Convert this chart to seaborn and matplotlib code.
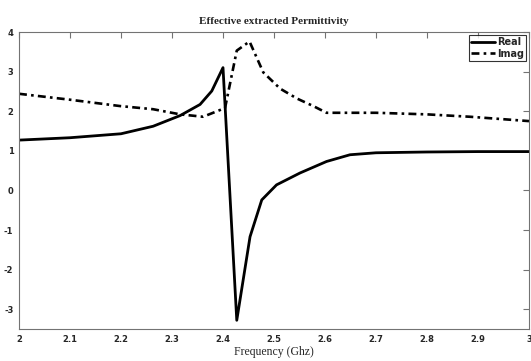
import matplotlib
matplotlib.use("Agg")
import matplotlib.pyplot as plt
import seaborn as sns
import pandas as pd

freq_real = [2.0, 2.1, 2.2, 2.263, 2.316, 2.355, 2.378, 2.40, 2.427, 2.453,
             2.476, 2.505, 2.551, 2.603, 2.649, 2.70, 2.8, 2.9, 3.0]
real_vals = [1.27, 1.33, 1.43, 1.62, 1.89, 2.17, 2.51, 3.10, -3.28, -1.17,
             -0.24, 0.14, 0.44, 0.73, 0.90, 0.95, 0.97, 0.98, 0.98]

freq_imag = [2.0, 2.1, 2.198, 2.263, 2.316, 2.361, 2.404, 2.427, 2.452, 2.479,
             2.512, 2.545, 2.577, 2.603, 2.70, 2.8, 2.884, 3.0]
imag_vals = [2.44, 2.29, 2.13, 2.05, 1.92, 1.86, 2.08, 3.53, 3.76, 2.98,
             2.57, 2.32, 2.13, 1.96, 1.96, 1.92, 1.86, 1.75]

xticks = [2.0, 2.1, 2.2, 2.3, 2.4, 2.5, 2.6, 2.7, 2.8, 2.9, 3.0]
xtick_labels = ["2", "2.1", "2.2", "2.3", "2.4", "2.5", "2.6", "2.7", "2.8", "2.9", "3"]
yticks = [-3, -2, -1, 0, 1, 2, 3, 4]

sns.set_theme(style="white")
plt.rcParams['font.family'] = ['Liberation Sans Narrow', 'DejaVu Sans']
plt.rcParams['axes.unicode_minus'] = False

df_real = pd.DataFrame({"Frequency": freq_real, "Value": real_vals})
df_imag = pd.DataFrame({"Frequency": freq_imag, "Value": imag_vals})

fig = plt.figure(figsize=(5.31, 3.61), dpi=100)
ax = fig.add_axes([19/531, 32/361, 510/531, 297/361])

sns.lineplot(data=df_real, x="Frequency", y="Value", ax=ax, color="black",
             linewidth=2.0, linestyle="-", label="Real", sort=False)
sns.lineplot(data=df_imag, x="Frequency", y="Value", ax=ax, color="black",
             linewidth=1.9, dashes=False, label="Imag", sort=False)
ax.lines[1].set_dashes([3.0, 1.6, 1.0, 1.6])

ax.set_xlim(2.0, 3.0)
ax.set_ylim(-3.5, 4)
ax.set_xticks(xticks)
ax.set_xticklabels(xtick_labels)
ax.set_yticks(yticks)
ax.tick_params(direction="in", length=4, width=0.8, color="0.45",
               top=True, right=True, labelsize=6, pad=4)
for lab in ax.get_xticklabels() + ax.get_yticklabels():
    lab.set_fontweight("bold")
for sp in ax.spines.values():
    sp.set_color("0.45")
    sp.set_linewidth(0.8)

ax.set_title("Effective extracted Permittivity", fontsize=8,
             family="Liberation Serif", fontweight="semibold", pad=6)
ax.set_xlabel("Frequency (Ghz)", fontsize=8.5, family="Liberation Serif", labelpad=2)
ax.set_ylabel("")

leg = ax.legend(loc="upper right", fontsize=7, frameon=True, fancybox=False,
                handlelength=2.4, handletextpad=0.2, borderpad=0.25,
                labelspacing=0.15, borderaxespad=0.3)
leg.get_frame().set_edgecolor("black")
leg.get_frame().set_linewidth(0.8)
for t in leg.get_texts():
    t.set_fontweight("bold")
leg.get_lines()[1].set_dashes([3.0, 1.6, 1.0, 1.6])

fig.savefig("out.png", dpi=100)
